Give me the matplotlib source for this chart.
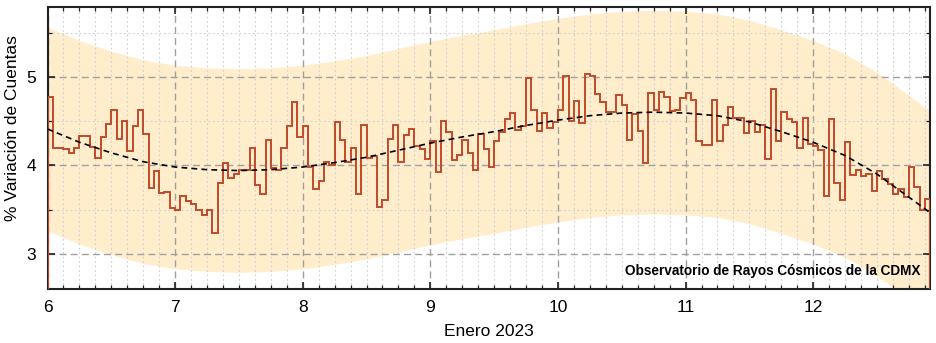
import numpy as np
import matplotlib
matplotlib.use("Agg")
import matplotlib.pyplot as plt
from matplotlib.ticker import MultipleLocator

plt.rcParams['font.family'] = ['Liberation Sans', 'DejaVu Sans']

# hourly count variation (%), starting 6 Jan 2023 00:00
start_day = 6.0
counts = [
    4.77, 4.20, 4.20, 4.18, 4.14, 4.20, 4.33, 4.33, 4.21, 4.08,
    4.32, 4.47, 4.63, 4.30, 4.50, 4.16, 4.44, 4.62, 4.35, 3.74,
    3.94, 3.69, 3.70, 3.52, 3.49, 3.65, 3.60, 3.56, 3.50, 3.44,
    3.50, 3.24, 3.80, 4.03, 3.86, 3.90, 3.95, 3.95, 4.19, 3.78,
    3.68, 4.28, 3.97, 3.95, 4.19, 4.44, 4.71, 4.32, 4.44, 3.98,
    3.73, 3.82, 4.04, 4.00, 4.49, 4.29, 4.04, 4.19, 3.68, 4.45,
    4.08, 4.11, 3.53, 3.61, 4.30, 4.45, 4.04, 4.34, 4.41, 4.22,
    4.18, 4.07, 4.27, 3.92, 4.50, 4.38, 4.06, 4.12, 4.29, 4.14,
    3.95, 4.35, 4.18, 3.98, 4.27, 4.38, 4.52, 4.59, 4.40, 4.44,
    4.99, 4.63, 4.39, 4.59, 4.42, 4.49, 4.63, 5.01, 4.50, 4.73,
    4.48, 5.03, 5.01, 4.80, 4.72, 4.60, 4.60, 4.79, 4.68, 4.28,
    4.58, 4.39, 4.02, 4.82, 4.62, 4.83, 4.77, 4.61, 4.63, 4.76,
    4.82, 4.74, 4.27, 4.23, 4.23, 4.74, 4.27, 4.46, 4.66, 4.53,
    4.53, 4.37, 4.50, 4.38, 4.45, 4.07, 4.86, 4.27, 4.60, 4.52,
    4.49, 4.20, 4.53, 4.24, 4.22, 4.17, 3.65, 4.52, 3.80, 3.61,
    4.26, 3.89, 3.95, 3.88, 3.90, 3.71, 3.93, 3.85, 3.79, 3.68,
    3.73, 3.64, 3.98, 3.75, 3.50, 3.62,
]

# smooth fit and its band
fit_days = [6.0, 6.25, 6.5, 6.75, 7.0, 7.25, 7.5, 7.75, 8.0, 8.25,
            8.5, 8.75, 9.0, 9.25, 9.5, 9.75, 10.0, 10.25, 10.5, 10.75,
            11.0, 11.25, 11.5, 11.75, 12.0, 12.25, 12.5, 12.75, 12.92]
fit_vals = [4.41, 4.26, 4.14, 4.04, 3.98, 3.95, 3.94, 3.95, 3.98, 4.03,
            4.09, 4.17, 4.25, 4.32, 4.38, 4.45, 4.51, 4.56, 4.59, 4.60,
            4.59, 4.56, 4.49, 4.38, 4.26, 4.11, 3.90, 3.64, 3.46]
band_upper = [5.56, 5.41, 5.29, 5.19, 5.13, 5.10, 5.09, 5.10, 5.13, 5.18,
              5.24, 5.32, 5.40, 5.47, 5.53, 5.60, 5.66, 5.71, 5.74, 5.75,
              5.74, 5.71, 5.64, 5.53, 5.41, 5.26, 5.05, 4.79, 4.61]
band_lower = [3.26, 3.11, 2.99, 2.89, 2.83, 2.80, 2.79, 2.80, 2.83, 2.88,
              2.94, 3.02, 3.10, 3.17, 3.23, 3.30, 3.36, 3.41, 3.44, 3.45,
              3.44, 3.41, 3.34, 3.23, 3.11, 2.96, 2.75, 2.49, 2.31]

edges = start_day + np.arange(len(counts) + 1) / 24.0

fig = plt.figure(figsize=(9.37, 3.43), dpi=100)
ax = fig.add_axes([0.0507, 0.157, 0.942, 0.823])

ax.fill_between(fit_days, band_lower, band_upper, color='orange',
                alpha=0.2, lw=0, zorder=1)
ax.stairs(counts, edges, color='#c24a2a', lw=1.4, zorder=3)
ax.plot(fit_days, fit_vals, color='black', lw=1.2,
        ls=(0, (3.5, 2.5)), zorder=4)

ax.set_xlim(6, edges[-1])
ax.set_ylim(2.6, 5.79)

ax.xaxis.set_major_locator(MultipleLocator(1))
ax.xaxis.set_minor_locator(MultipleLocator(0.125))
ax.yaxis.set_major_locator(MultipleLocator(1))
ax.yaxis.set_minor_locator(MultipleLocator(0.5))

ax.grid(which='major', color='#a0a0a0', lw=1.0, ls=(0, (5, 3)), zorder=2)
ax.grid(which='minor', color='#cfcfcf', lw=0.8, ls=(0, (1.5, 2.5)), zorder=2)

ax.tick_params(which='both', direction='in', top=True, right=True,
               labelsize=12.5, colors='#222222', labelcolor='black')
ax.tick_params(which='major', length=5, width=1.2, pad=8)
ax.tick_params(which='minor', length=3, width=0.9)
for s in ax.spines.values():
    s.set_linewidth(1.5)
    s.set_color('#222222')

ax.set_xlabel('Enero 2023', fontsize=12.5, labelpad=6)
ax.set_ylabel('% Variación de Cuentas', fontsize=12.5)
ax.yaxis.set_label_coords(-0.0306, 0.571)

ax.text(0.9895, 0.064, 'Observatorio de Rayos Cósmicos de la CDMX',
        transform=ax.transAxes, ha='right', va='center',
        fontsize=9.8, fontweight='bold', zorder=5)

fig.savefig('out.png', dpi=100)
